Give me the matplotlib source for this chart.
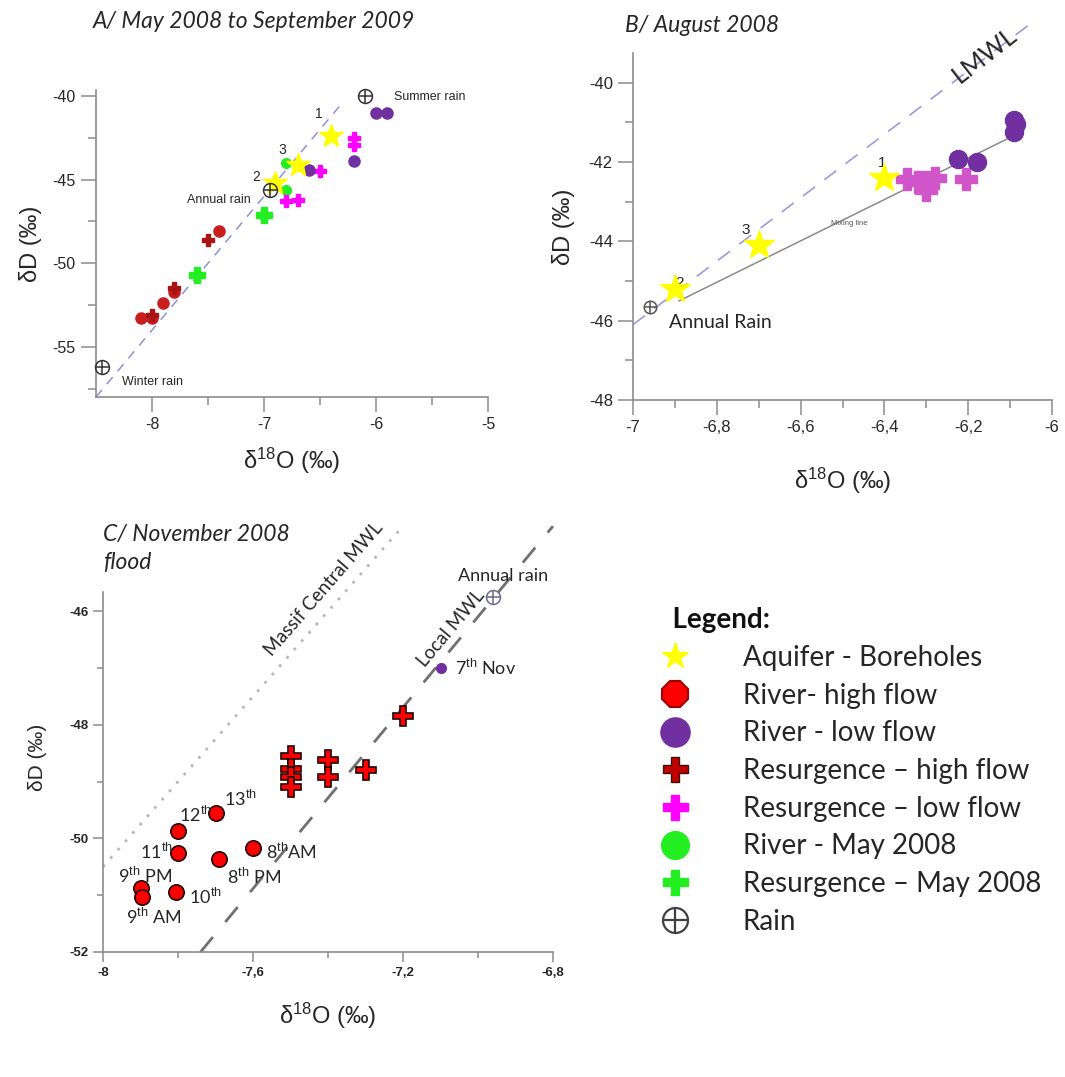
import matplotlib
matplotlib.use('Agg')
import matplotlib.pyplot as plt
from matplotlib.lines import Line2D
from matplotlib.ticker import FixedLocator, FixedFormatter

plt.rcParams['font.family'] = ['Liberation Sans', 'DejaVu Sans']
plt.rcParams['mathtext.fontset'] = 'custom'
plt.rcParams['mathtext.rm'] = 'Liberation Sans'
plt.rcParams['mathtext.it'] = 'Liberation Sans:italic'
plt.rcParams['mathtext.bf'] = 'Liberation Sans:bold'
plt.rcParams['axes.unicode_minus'] = False

# ---------------- data : panel A (May 2008 - Sept 2009) ----------------
a_star_x = [-6.4, -6.7, -6.9]
a_star_y = [-42.4, -44.1, -45.2]
a_star_labels = ['1', '3', '2']
a_rain_x = [-6.1, -6.95, -8.45]
a_rain_y = [-40.0, -45.6, -56.2]
a_rain_labels = ['Summer rain', 'Annual rain', 'Winter rain']
a_river_low_x = [-6.0, -5.9, -6.2, -6.6]
a_river_low_y = [-41.0, -41.0, -43.9, -44.4]
a_res_low_x = [-6.2, -6.2, -6.5, -6.8, -6.7]
a_res_low_y = [-42.5, -42.9, -44.5, -46.3, -46.2]
a_river_may_x = [-6.8, -6.8]
a_river_may_y = [-44.0, -45.6]
a_res_may_x = [-7.0, -7.6]
a_res_may_y = [-47.1, -50.7]
a_river_high_x = [-7.4, -7.9, -8.1, -8.0, -7.8]
a_river_high_y = [-48.1, -52.4, -53.3, -53.3, -51.7]
a_res_high_x = [-7.5, -7.8, -8.0]
a_res_high_y = [-48.6, -51.5, -53.1]
a_lmwl_x = [-8.5, -6.3]
a_lmwl_y = [-58.0, -40.4]

# ---------------- data : panel B (August 2008) ----------------
b_star_x = [-6.4, -6.7, -6.9]
b_star_y = [-42.4, -44.1, -45.2]
b_star_labels = ['1', '3', '2']
b_rain_x = [-6.96]
b_rain_y = [-45.65]
b_river_low_x = [-6.225, -6.18, -6.09, -6.085, -6.09]
b_river_low_y = [-41.93, -42.0, -41.24, -41.05, -40.95]
b_res_low_x = [-6.345, -6.32, -6.30, -6.28, -6.30, -6.205]
b_res_low_y = [-42.42, -42.5, -42.5, -42.4, -42.7, -42.43]
b_mix_x = [-6.89, -6.075]
b_mix_y = [-45.5, -41.25]
b_lmwl_x = [-7.0, -6.05]
b_lmwl_y = [-46.1, -38.5]
b_xticks = [-7.0, -6.8, -6.6, -6.4, -6.2, -6.0]
b_xticklabels = ['-7', '-6,8', '-6,6', '-6,4', '-6,2', '-6']

# ---------------- data : panel C (November 2008 flood) ----------------
c_river_high_x = [-7.70, -7.80, -7.80, -7.69, -7.60, -7.90, -7.895, -7.805]
c_river_high_y = [-49.56, -49.87, -50.26, -50.37, -50.17, -50.87, -51.03, -50.94]
c_res_high_x = [-7.5, -7.5, -7.5, -7.5, -7.4, -7.4, -7.3, -7.2]
c_res_high_y = [-48.55, -48.78, -48.92, -49.1, -48.62, -48.92, -48.8, -47.85]
c_river_low_x = [-7.1]
c_river_low_y = [-47.0]
c_rain_x = [-6.96]
c_rain_y = [-45.75]
c_local_x = [-7.74, -6.8]
c_local_y = [-52.0, -44.5]
c_massif_x = [-8.0, -7.2]
c_massif_y = [-50.5, -44.5]
c_xticks = [-8.0, -7.6, -7.2, -6.8]
c_xticklabels = ['-8', '-7,6', '-7,2', '-6,8']
c_label_text = ['13$^{\\mathrm{th}}$', '12$^{\\mathrm{th}}$', '11$^{\\mathrm{th}}$',
                '9$^{\\mathrm{th}}$ PM', '9$^{\\mathrm{th}}$ AM', '10$^{\\mathrm{th}}$',
                '8$^{\\mathrm{th}}$ PM', '8$^{\\mathrm{th}}$AM', '7$^{\\mathrm{th}}$ Nov',
                'Annual rain']
c_label_x = [-7.676, -7.798, -7.90, -7.96, -7.94, -7.771, -7.67, -7.566, -7.061, -7.053]
c_label_y = [-49.31, -49.59, -50.24, -50.66, -51.38, -51.03, -50.68, -50.24, -47.0, -45.38]

legend_labels = ['Aquifer - Boreholes', 'River- high flow', 'River - low flow',
                 'Resurgence \u2013 high flow', 'Resurgence \u2013 low flow',
                 'River - May 2008', 'Resurgence \u2013 May 2008', 'Rain']

# ---------------- styling ----------------
YELLOW = '#ffff00'
RED_A = '#c81e1e'
PURPLE = '#7030a0'
MAGENTA = '#ff00ff'
PINK_B = '#d055c8'
GREEN = '#22ee22'
DARKRED = '#a81414'
RED_C = '#ff0000'
SPINE = '#8c8c8c'
TXT = '#262626'

W, H = 1065, 1077
fig = plt.figure(figsize=(W / 100, H / 100), dpi=100)


def rect(l, t, r, b):
    return [l / W, 1 - b / H, (r - l) / W, (b - t) / H]


def style_axes(ax, fs, weight='normal'):
    for s in ['top', 'right']:
        ax.spines[s].set_visible(False)
    for s in ['left', 'bottom']:
        ax.spines[s].set_color(SPINE)
        ax.spines[s].set_linewidth(1.2)
    ax.tick_params(which='major', direction='out', length=11, width=1.1, color=SPINE,
                   labelsize=fs, labelcolor=TXT)
    ax.tick_params(which='minor', direction='out', length=6, width=1.1, color=SPINE)
    for lab in ax.get_xticklabels() + ax.get_yticklabels():
        lab.set_fontweight(weight)


def rain(ax, x, y, ms, color='#333333', clip=True):
    ax.plot(x, y, 'o', mfc='none', mec=color, ms=ms, mew=1.1, clip_on=clip, zorder=5)
    ax.plot(x, y, '+', color=color, ms=ms, mew=1.1, clip_on=clip, zorder=5)


# ======================= Panel A =======================
axA = fig.add_axes(rect(96, 90, 488, 397))
axA.set_xlim(-8.5, -5)
axA.set_ylim(-58, -39.64)
axA.xaxis.set_major_locator(FixedLocator([-8, -7, -6, -5]))
axA.xaxis.set_minor_locator(FixedLocator([-7.5, -6.5, -5.5]))
axA.yaxis.set_major_locator(FixedLocator([-55, -50, -45, -40]))
axA.yaxis.set_minor_locator(FixedLocator([-57.5, -52.5, -47.5, -42.5]))
axA.plot(a_lmwl_x, a_lmwl_y, ls=(0, (6, 5)), color='#9090d8', lw=1.1, zorder=1)
axA.plot(a_river_high_x, a_river_high_y, 'o', color=RED_A, ms=8, zorder=3)
axA.plot(a_res_high_x, a_res_high_y, 'P', color=DARKRED, ms=9, zorder=3)
axA.plot(a_res_may_x, a_res_may_y, 'P', color=GREEN, ms=11, zorder=3)
axA.plot(a_river_may_x, a_river_may_y, 'o', color=GREEN, ms=7, zorder=3)
axA.plot(a_res_low_x, a_res_low_y, 'P', color=MAGENTA, ms=9, zorder=3)
axA.plot(a_river_low_x, a_river_low_y, 'o', color=PURPLE, ms=8, zorder=3)
axA.plot(a_star_x, a_star_y, '*', color=YELLOW, ms=18, zorder=4)
rain(axA, a_rain_x, a_rain_y, 10, clip=False)
for x, y, t, dx, dy in zip(a_star_x, a_star_y, a_star_labels, [-0.11, -0.14, -0.17], [1.3, 0.9, 0.35]):
    axA.text(x + dx, y + dy, t, fontsize=10, color=TXT, ha='center', va='center')
axA.text(-5.84, -40.05, a_rain_labels[0], fontsize=9, color=TXT, ha='left', va='center')
axA.text(-7.12, -46.2, a_rain_labels[1], fontsize=9, color=TXT, ha='right', va='center')
axA.text(-8.27, -57.1, a_rain_labels[2], fontsize=9, color=TXT, ha='left', va='center')
style_axes(axA, 11.5)
axA.set_xlabel('\u03b4$^{18}$O (\u2030)', fontsize=17, color=TXT, labelpad=10)
axA.set_ylabel('\u03b4D (\u2030)', fontsize=17, color=TXT, labelpad=8)
fig.text(93 / W, 1 - 22 / H, 'A/ May 2008 to September 2009', fontsize=16.5, style='italic',
         family=['Lato', 'DejaVu Sans'], color=TXT, ha='left', va='center')

# ======================= Panel B =======================
axB = fig.add_axes(rect(633, 53, 1052, 400))
axB.set_xlim(-7, -6)
axB.set_ylim(-48, -39.25)
axB.xaxis.set_major_locator(FixedLocator(b_xticks))
axB.xaxis.set_major_formatter(FixedFormatter(b_xticklabels))
axB.xaxis.set_minor_locator(FixedLocator([-6.9, -6.7, -6.5, -6.3, -6.1]))
axB.yaxis.set_major_locator(FixedLocator([-48, -46, -44, -42, -40]))
axB.yaxis.set_minor_locator(FixedLocator([-47, -45, -43, -41]))
axB.plot(b_lmwl_x, b_lmwl_y, ls=(0, (9, 7)), color='#9a9ae0', lw=1.2, zorder=1, clip_on=False)
axB.plot(b_mix_x, b_mix_y, '-', color='#8a8a8a', lw=1.1, zorder=1)
axB.plot(b_res_low_x, b_res_low_y, 'P', color=PINK_B, ms=16, zorder=3)
axB.plot(b_river_low_x, b_river_low_y, 'o', color=PURPLE, ms=13, zorder=3)
axB.plot(b_star_x, b_star_y, '*', color=YELLOW, ms=22, zorder=4)
rain(axB, b_rain_x, b_rain_y, 9, color='#555555')
for x, y, t, dx, dy in zip(b_star_x, b_star_y, b_star_labels, [-0.005, -0.03, 0.01], [0.38, 0.38, 0.15]):
    axB.text(x + dx, y + dy, t, fontsize=11, color=TXT, ha='center', va='center')
axB.text(-6.915, -46.05, 'Annual Rain', fontsize=14, family=['Lato', 'DejaVu Sans'],
         color=TXT, ha='left', va='center')
axB.text(-6.485, -43.55, 'Mixing line', fontsize=5.5, color='#555555', ha='center', va='center')
axB.text(-6.16, -39.3, 'LMWL', fontsize=18, color=TXT, ha='center', va='center',
         rotation=38, family=['Lato', 'DejaVu Sans'])
style_axes(axB, 12)
axB.set_xlabel('\u03b4$^{18}$O (\u2030)', fontsize=17, color=TXT, labelpad=22)
axB.set_ylabel('\u03b4D (\u2030)', fontsize=17, color=TXT, labelpad=10)
fig.text(625 / W, 1 - 25 / H, 'B/ August 2008', fontsize=16.5, style='italic',
         family=['Lato', 'DejaVu Sans'], color=TXT, ha='left', va='center')

# ======================= Panel C =======================
axC = fig.add_axes(rect(103, 592, 553, 952))
axC.set_xlim(-8, -6.8)
axC.set_ylim(-52, -45.66)
axC.xaxis.set_major_locator(FixedLocator(c_xticks))
axC.xaxis.set_major_formatter(FixedFormatter(c_xticklabels))
axC.xaxis.set_minor_locator(FixedLocator([-7.8, -7.4, -7.0]))
axC.yaxis.set_major_locator(FixedLocator([-52, -50, -48, -46]))
axC.yaxis.set_minor_locator(FixedLocator([-51, -49, -47]))
axC.plot(c_massif_x, c_massif_y, ls=(0, (1, 3)), color='#b8b8b8', lw=2.0, zorder=1, clip_on=False)
axC.plot(c_local_x, c_local_y, ls=(0, (7, 7)), color='#707070', lw=2.0, zorder=1, clip_on=False)
axC.plot(c_res_high_x, c_res_high_y, 'P', color=RED_C, mec='#200000', mew=1.2, ms=14, zorder=3)
axC.plot(c_river_high_x, c_river_high_y, 'o', color=RED_C, mec='#200000', mew=1.2, ms=11, zorder=3)
axC.plot(c_river_low_x, c_river_low_y, 'o', color=PURPLE, ms=7, zorder=3)
rain(axC, c_rain_x, c_rain_y, 10, color='#6a6a90', clip=False)
for x, y, t in zip(c_label_x, c_label_y, c_label_text):
    axC.text(x, y, t, fontsize=13, family=['Lato', 'DejaVu Sans'], color=TXT,
             ha='left', va='center', clip_on=False)
axC.text(-7.41, -45.6, 'Massif Central MWL', fontsize=13.5, family=['Lato', 'DejaVu Sans'],
         color=TXT, ha='center', va='center', rotation=49, clip_on=False)
axC.text(-7.072, -46.3, 'Local MWL', fontsize=13.5, family=['Lato', 'DejaVu Sans'],
         color=TXT, ha='center', va='center', rotation=50, clip_on=False)
style_axes(axC, 9.5, weight='bold')
axC.tick_params(which='major', length=7)
axC.tick_params(which='minor', length=4)
axC.set_xlabel('\u03b4$^{18}$O (\u2030)', fontsize=17, color=TXT, labelpad=16)
axC.set_ylabel('\u03b4D (\u2030)', fontsize=15, color=TXT, labelpad=8)
axC.yaxis.set_label_coords(-0.125, 0.54)
fig.text(103 / W, 1 - 535 / H, 'C/ November 2008', fontsize=16.5, style='italic',
         family=['Lato', 'DejaVu Sans'], color=TXT, ha='left', va='center')
fig.text(103 / W, 1 - 562 / H, 'flood', fontsize=16.5, style='italic',
         family=['Lato', 'DejaVu Sans'], color=TXT, ha='left', va='center')

# ======================= Legend =======================
handles = [
    Line2D([], [], ls='none', marker='*', color=YELLOW, ms=20),
    Line2D([], [], ls='none', marker='8', color=RED_C, mec='#a00000', mew=1.5, ms=20),
    Line2D([], [], ls='none', marker='o', color=PURPLE, ms=21),
    Line2D([], [], ls='none', marker='P', color='#c00000', mec='#401010', mew=1, ms=18),
    Line2D([], [], ls='none', marker='P', color=MAGENTA, ms=18),
    Line2D([], [], ls='none', marker='o', color=GREEN, ms=20),
    Line2D([], [], ls='none', marker='P', color=GREEN, ms=18),
    (Line2D([], [], ls='none', marker='o', mfc='none', mec='#404040', mew=1.6, ms=18),
     Line2D([], [], ls='none', marker='+', color='#404040', mew=1.6, ms=18)),
]
leg = fig.legend(handles, legend_labels, loc='upper left', bbox_to_anchor=(640 / W, 1 - 588 / H),
                 frameon=False, title='  Legend:', alignment='left',
                 prop={'family': ['Lato', 'DejaVu Sans'], 'size': 20},
                 title_fontproperties={'family': ['Lato', 'DejaVu Sans'], 'size': 20, 'weight': 'bold'},
                 labelspacing=0.42, handlelength=1.1, handletextpad=1.9, borderpad=0.2)
for t in leg.get_texts():
    t.set_color(TXT)
leg.get_title().set_color('#111111')

fig.savefig('out.png', dpi=100, facecolor='white')
